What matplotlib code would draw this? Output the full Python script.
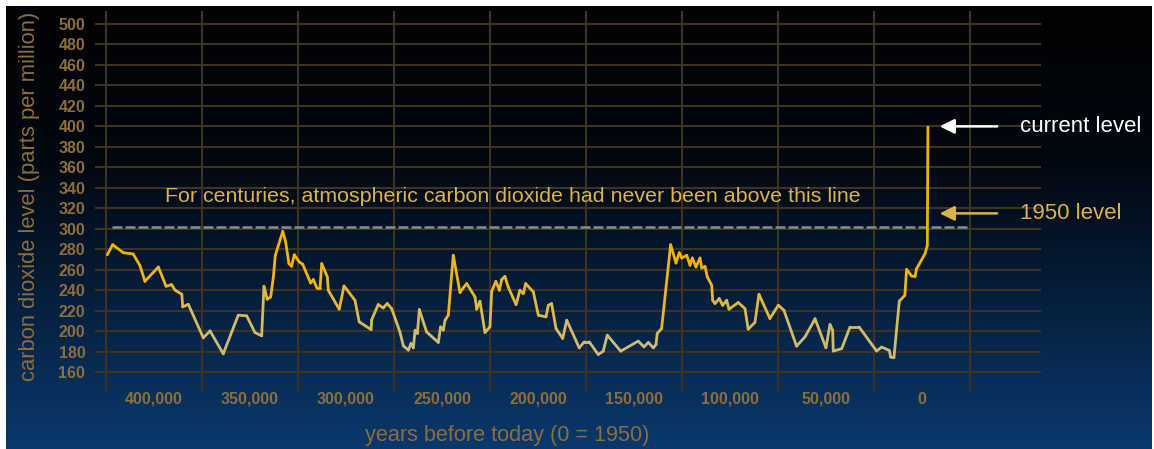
import matplotlib

matplotlib.use("Agg")
import matplotlib.pyplot as plt
import numpy as np
from matplotlib.collections import LineCollection
from matplotlib.colors import LinearSegmentedColormap, Normalize

plt.rcParams["font.family"] = ["Liberation Sans", "DejaVu Sans"]

# years before 1950 and CO2 (ppm)
years = [
    424300, 421500, 416000, 410800, 407300, 404700, 397700, 393700, 390800, 389000,
    385500, 385000, 382100, 374300, 370800, 363900, 356100, 351700, 347400, 343900,
    342700, 341000, 339200, 337800, 336800, 332900, 331400, 329700, 328300, 326900,
    324300, 322500, 318400, 317000, 315200, 313500, 312600, 309700, 309200, 303500,
    301000, 295300, 293100, 286900, 286600, 283200, 280600, 278500, 276200, 271900,
    270100, 267500, 266100, 264900, 264000, 262800, 261800, 258000, 251900, 250700,
    249300, 248400, 246700, 244100, 240600, 238900, 237100, 232800, 231900, 230200,
    227600, 225000, 224100, 221900, 220100, 218900, 217200, 215500, 211400, 209400,
    207600, 206400, 202400, 199800, 195800, 194600, 192900, 190600, 187100, 185000,
    178500, 175900, 173300, 168600, 166000, 163900, 156900, 147800, 144800, 142500,
    139900, 138500, 137900, 135600, 130900, 128100, 126400, 125100, 122500, 120800,
    119600, 117700, 115600, 114700, 113000, 111800, 109500, 109000, 107800, 105600,
    103800, 101700, 100500, 95700, 92200, 90500, 87000, 84900, 79200, 74800,
    71900, 65300, 60900, 56600, 55700, 50000, 47900, 46500, 46200, 41800,
    37500, 32700, 23600, 21000, 17000, 16300, 14600, 11800, 8900, 8000,
    5400, 3600, 2800, -1600, -2800, -3100,
]
co2 = [
    274.6, 284.4, 276.6, 275.3, 264.0, 248.6, 262.6, 243.8, 245.4, 240.0,
    236.0, 223.6, 226.2, 193.4, 200.2, 177.8, 215.5, 214.9, 198.6, 195.4,
    243.8, 231.1, 233.4, 252.9, 274.0, 297.4, 287.0, 265.9, 263.3, 274.6,
    267.5, 265.2, 247.0, 250.3, 242.2, 242.2, 265.9, 252.9, 239.9, 221.4,
    244.1, 230.1, 209.0, 201.5, 211.0, 225.9, 222.6, 226.9, 222.0, 199.2,
    185.6, 181.4, 187.9, 183.6, 200.9, 197.6, 221.0, 199.2, 188.9, 204.1,
    200.9, 210.6, 215.5, 274.0, 237.6, 242.2, 246.4, 233.4, 221.4, 229.2,
    198.6, 204.1, 238.9, 248.6, 239.9, 250.3, 253.5, 243.1, 225.9, 239.9,
    236.6, 246.4, 238.3, 215.5, 213.9, 225.2, 226.9, 202.5, 192.8, 210.6,
    183.6, 189.5, 189.5, 177.1, 180.4, 196.0, 180.4, 190.2, 184.6, 188.9,
    183.6, 186.9, 197.6, 202.5, 284.4, 266.5, 276.6, 271.4, 274.0, 264.3,
    271.4, 262.6, 271.4, 261.6, 263.3, 252.9, 244.8, 230.1, 226.9, 231.8,
    225.2, 230.1, 221.4, 227.9, 222.0, 201.9, 208.4, 236.0, 212.3, 225.2,
    220.4, 185.3, 194.4, 208.8, 212.1, 183.7, 206.5, 200.7, 180.5, 182.8,
    203.9, 203.9, 180.5, 184.4, 181.1, 174.6, 174.0, 229.3, 234.9, 260.3,
    253.8, 253.4, 260.9, 275.6, 283.7, 399.3,
]

y_ticks = list(range(160, 501, 20))
x_ticks = [400000, 350000, 300000, 250000, 200000, 150000, 100000, 50000, 0]
x_tick_labels = ["400,000", "350,000", "300,000", "250,000", "200,000",
                 "150,000", "100,000", "50,000", "0"]
grid_years = [425000, 375000, 325000, 275000, 225000, 175000, 125000, 75000, 25000, -25000]
never_above = 302
current_level = 400
level_1950 = 315

X_LEFT, X_RIGHT = 430700, -62000
Y_LOW, Y_HIGH = 140.5, 512.7

GRID = "#3e3220"
TICK = "#8d6d3e"
GOLD = "#ddb24a"


def main():
    fig = plt.figure(figsize=(11.54, 4.49), dpi=100)
    fig.patch.set_facecolor("white")

    # background gradient, black at the top to navy at the bottom
    bg_cmap = LinearSegmentedColormap.from_list(
        "bg", [(0.0, "#010203"), (0.35, "#020810"), (0.6, "#051a33"),
               (0.85, "#082e58"), (1.0, "#0a396c")]
    )
    bg = fig.add_axes([6 / 1154, 0, 1146 / 1154, 443 / 449])
    bg.imshow(np.linspace(0, 1, 256).reshape(-1, 1), aspect="auto", cmap=bg_cmap,
              extent=[0, 1, 0, 1])
    bg.axis("off")

    ax = fig.add_axes([95 / 1154, 1 - 392 / 449, 946 / 1154, 381 / 449])
    ax.set_facecolor("none")
    ax.set_xlim(X_LEFT, X_RIGHT)
    ax.set_ylim(Y_LOW, Y_HIGH)
    for s in ax.spines.values():
        s.set_visible(False)

    ax.hlines(y_ticks, X_LEFT, X_RIGHT, colors=GRID, lw=1.5, zorder=1)
    ax.vlines(grid_years, Y_LOW, Y_HIGH, colors=GRID, lw=1.5, zorder=1)

    ax.hlines(never_above, 422000, -25000, colors="#858c96", lw=1.8,
              linestyles=(0, (4, 1.2)), zorder=2)

    # curve, coloured by height: pale khaki low, saturated gold high
    pts = np.column_stack([years, co2])
    segs = np.stack([pts[:-1], pts[1:]], axis=1)
    line_cmap = LinearSegmentedColormap.from_list(
        "co2", ["#c8bd80", "#ddb94c", "#f2b412", "#f6b000"]
    )
    lc = LineCollection(segs, cmap=line_cmap, norm=Normalize(180, 300),
                        linewidths=2.0, capstyle="round", joinstyle="round", zorder=3)
    lc.set_array(np.array(co2[:-1]) * 0.5 + np.array(co2[1:]) * 0.5)
    ax.add_collection(lc)

    ax.text(394200, 331, "For centuries, atmospheric carbon dioxide had never been above this line",
            color=GOLD, fontsize=15.4, va="center", ha="left", zorder=4)

    ax.annotate("", xy=(-7800, current_level), xytext=(-40600, current_level),
                arrowprops=dict(arrowstyle="-|>", color="white", lw=1.8, mutation_scale=22),
                annotation_clip=False)
    ax.text(-51000, current_level, "current level", color="white", fontsize=16,
            va="center", ha="left", clip_on=False)
    ax.annotate("", xy=(-7800, level_1950), xytext=(-40600, level_1950),
                arrowprops=dict(arrowstyle="-|>", color=GOLD, lw=1.8, mutation_scale=22),
                annotation_clip=False)
    ax.text(-51000, level_1950, "1950 level", color=GOLD, fontsize=16,
            va="center", ha="left", clip_on=False)

    ax.set_yticks(y_ticks)
    ax.set_yticklabels([str(v) for v in y_ticks], fontweight="bold")
    ax.set_xticks(x_ticks)
    ax.set_xticklabels(x_tick_labels, fontweight="bold")
    ax.tick_params(axis="y", length=0, pad=7, labelsize=11.5, labelcolor=TICK)
    ax.tick_params(axis="x", length=0, pad=0, labelsize=11.5, labelcolor=TICK)

    fig.text(30 / 1154, 1 - 196 / 449, "carbon dioxide level (parts per million)", color=TICK,
             fontsize=15.8, rotation=90, ha="center", va="center")
    fig.text(507 / 1154, 1 - 435 / 449, "years before today (0 = 1950)", color=TICK,
             fontsize=15.6, ha="center", va="center")

    fig.savefig("out.png", dpi=100, facecolor=fig.get_facecolor())
    plt.close(fig)


if __name__ == "__main__":
    main()
